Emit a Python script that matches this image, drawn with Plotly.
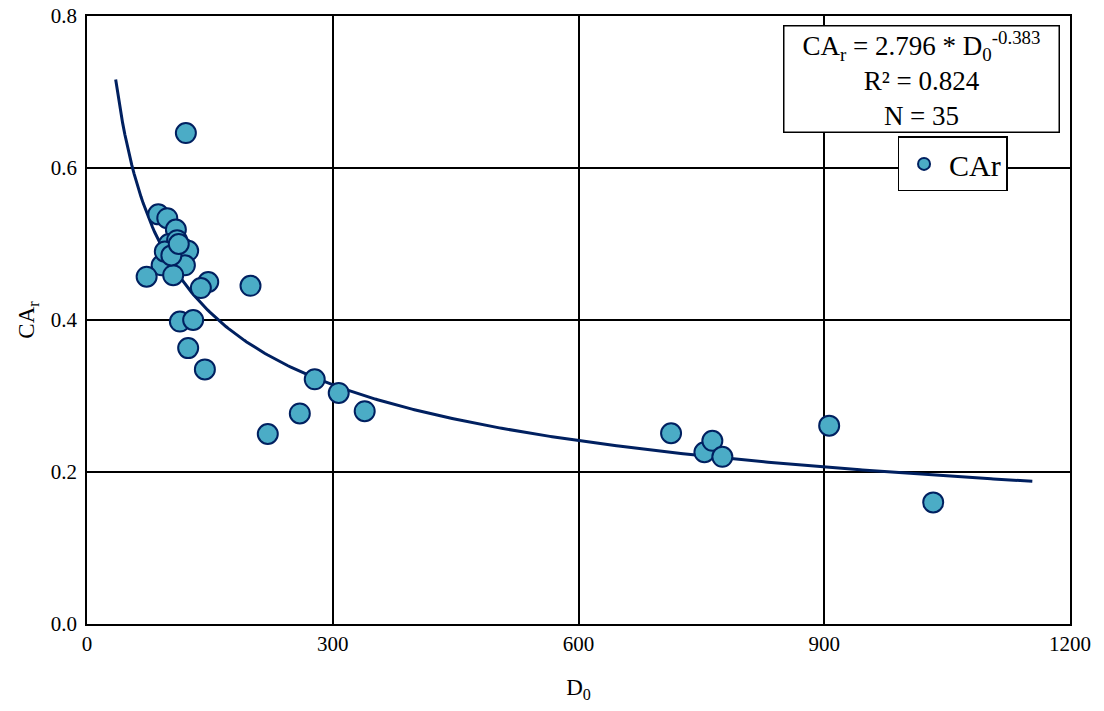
import numpy as np
import plotly.graph_objects as go

# Observed data (D0, CAr)
d0 = [120.7, 87, 98, 108.5, 99, 117.4, 123.5, 97.2, 91.1, 119.5, 72.8, 105.2,
      148, 139, 199.6, 113.4, 129.6, 123.5, 143.9, 220.7, 259.8, 278, 307.3,
      339, 713, 753.7, 763.4, 775.6, 906, 1033, 100, 110, 95, 103, 112]
car = [0.646, 0.539, 0.534, 0.519, 0.494, 0.494, 0.491, 0.481, 0.472, 0.472,
       0.457, 0.459, 0.450, 0.442, 0.445, 0.398, 0.400, 0.363, 0.335, 0.250,
       0.277, 0.322, 0.304, 0.280, 0.251, 0.226, 0.241, 0.220, 0.261, 0.160,
       0.500, 0.505, 0.490, 0.485, 0.500]

# Fitted power-law trend: CAr = a * D0^b
fit_a = 2.796
fit_b = -0.383
fit_x_min, fit_x_max = 35, 1154

x_ticks = [0, 300, 600, 900, 1200]
y_ticks = [0.0, 0.2, 0.4, 0.6, 0.8]
y_tick_labels = ["0.0", "0.2", "0.4", "0.6", "0.8"]

navy = "#002060"
fill = "#4BACC6"
font_family = "Liberation Serif"

fx = np.linspace(fit_x_min, fit_x_max, 400)
fy = fit_a * fx ** fit_b

fig = go.Figure()
fig.add_trace(go.Scatter(x=fx, y=fy, mode="lines", line=dict(color=navy, width=3),
                         showlegend=False, hoverinfo="skip"))
fig.add_trace(go.Scatter(x=d0, y=car, mode="markers", name="CAr",
                         marker=dict(size=20, color=fill, line=dict(color=navy, width=2))))

fig.update_layout(
    width=1104, height=711,
    margin=dict(l=87, r=34, t=16, b=87),
    paper_bgcolor="white", plot_bgcolor="white",
    font=dict(family=font_family, size=21, color="black"),
    xaxis=dict(range=[0, 1200], tickvals=x_ticks, showgrid=True, gridcolor="black",
               gridwidth=1.5, showline=True, linecolor="black", linewidth=1.5, mirror=True,
               zeroline=False, ticks="", tickfont=dict(size=21), automargin=False,
               title=dict(text="D<sub>0</sub>", font=dict(size=23), standoff=24)),
    yaxis=dict(range=[0, 0.8], tickvals=y_ticks, ticktext=y_tick_labels, showgrid=True,
               gridcolor="black", gridwidth=1.5, showline=True, linecolor="black",
               linewidth=1.5, mirror=True, zeroline=False, ticks="", tickfont=dict(size=21),
               ticklabelstandoff=4, automargin=False,
               title=dict(text="CA<sub>r</sub>", font=dict(size=23), standoff=10)),
    legend=dict(x=0.8805, y=0.802, xanchor="center", yanchor="top", bgcolor="white",
                bordercolor="black", borderwidth=1.5, font=dict(size=30),
                itemsizing="constant", itemwidth=40),
    showlegend=True,
)

fig.add_annotation(
    xref="paper", yref="paper", x=0.9895, y=0.985, xanchor="right", yanchor="top",
    text="CA<sub>r</sub> = 2.796 * D<sub>0</sub><sup>-0.383</sup><br>R² = 0.824<br>N = 35",
    showarrow=False, align="center", font=dict(size=27, family=font_family),
    width=272, height=103,
    bgcolor="white", bordercolor="black", borderwidth=1.5, borderpad=1,
)

fig.write_html("out.html", config={"displayModeBar": False},
               post_script="document.body.style.margin='0';")
